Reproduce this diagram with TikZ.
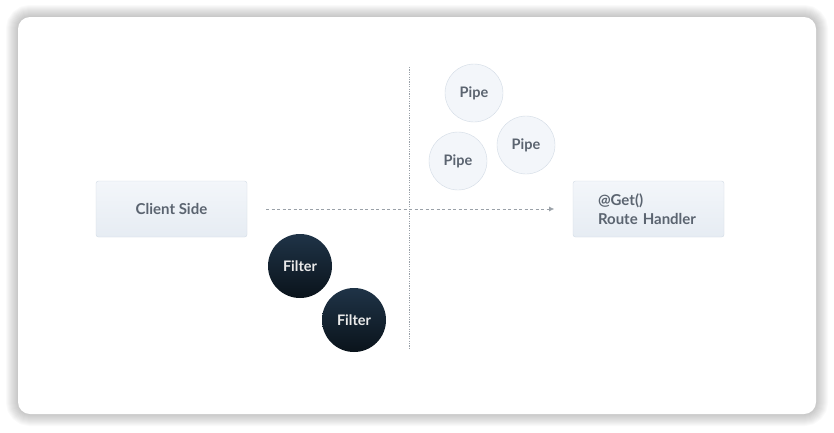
\documentclass[tikz,border=0pt]{standalone}
\usepackage{fontspec}
\setmainfont{Lato}
\usetikzlibrary{arrows.meta,shapes.geometric}
\definecolor{txtgrey}{HTML}{5B6470}
\definecolor{boxtop}{HTML}{F3F6FA}
\definecolor{boxbot}{HTML}{E6ECF3}
\definecolor{boxline}{HTML}{D2DBE5}
\definecolor{filtertop}{HTML}{1F3347}
\definecolor{filterbot}{HTML}{0A131B}
\definecolor{lineg}{HTML}{9AA1A8}
\tikzset{box/.style={draw=boxline, top color=boxtop, bottom color=boxbot, rounded corners=2.5pt, minimum width=151pt, minimum height=56pt, text=txtgrey, font=\bfseries\fontsize{15}{19}\selectfont}}
\tikzset{pipe/.style={circle, draw=boxline, fill=boxtop, inner sep=0pt, minimum size=58pt, text=txtgrey, font=\bfseries\fontsize{14.5}{17}\selectfont}}
\tikzset{filter/.style={circle, top color=filtertop, bottom color=filterbot, inner sep=0pt, minimum size=64pt, text=white!92!black, font=\bfseries\fontsize{14.5}{17}\selectfont}}
\tikzset{flow/.style={lineg, dashed, dash pattern=on 3pt off 2.5pt, -{Latex[length=5pt,width=5pt]}}}
\tikzset{divider/.style={lineg, dash pattern=on 1.2pt off 1.2pt, line width=0.8pt}}

\begin{document}
\begin{tikzpicture}[x=1pt,y=-1pt]
\useasboundingbox (0,0) rectangle (834,432);
% shadow of the card
\foreach \i in {1,...,12}
  \draw[black, opacity=0.018, line width=2*\i pt, rounded corners=12pt] (18,17) rectangle (816,414);
\fill[white, rounded corners=12pt] (18,17) rectangle (816,414);

\node (client) at (171.5,209)[box]{Client Side};
\node (handler) at (648.5,209)[box, align=left, text width=101pt]{@Get()\\Route Handler};

\node (p1) at (474,93)[pipe]{Pipe};
\node (p2) at (526,145)[pipe]{Pipe};
\node (p3) at (458,161)[pipe]{Pipe};

\node (f1) at (300,266)[filter]{Filter};
\node (f2) at (354,320)[filter]{Filter};

%divider and flow
\coordinate (top) at (409,67);
\coordinate (bot) at (409,350);
\draw[divider] (top)--(bot);
\coordinate (from) at (266,209);
\coordinate (to) at (554,209);
\draw[flow] (from)--(to);
\end{tikzpicture}
\end{document}
